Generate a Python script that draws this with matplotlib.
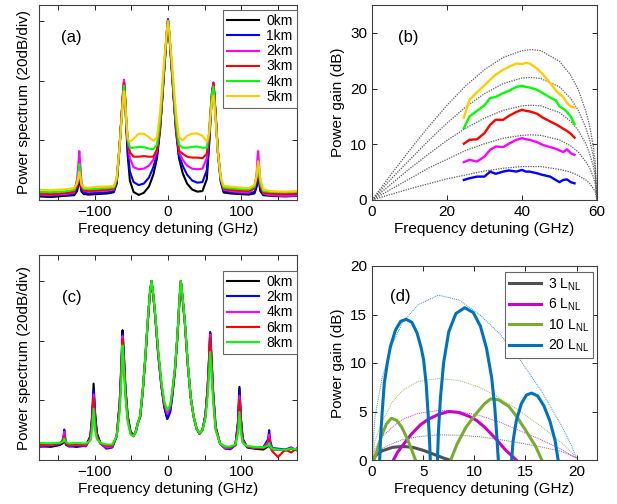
import numpy as np
import matplotlib
matplotlib.use('Agg')
import matplotlib.pyplot as plt
from matplotlib.ticker import NullFormatter

plt.rcParams['font.family'] = ['Liberation Sans', 'DejaVu Sans']
plt.rcParams['font.size'] = 11
plt.rcParams['mathtext.fontset'] = 'custom'
plt.rcParams['mathtext.rm'] = 'Liberation Sans'

#### panel (a): spectra after 0..5 km ####
fa = [-176, -160, -140, -128, -124, -122, -121, -120, -118, -115, -108, -95, -82, -74, -70, -66,
      -63, -61, -60, -59, -57, -55, -52, -47, -40, -33, -26, -20, -15, -11, -8, -5, -3, -1.5, 0,
      1.5, 3, 5, 8, 11, 15, 20, 26, 33, 40, 47, 53, 56, 58, 60, 62, 63, 65, 68, 72, 76, 85, 97,
      110, 118, 121, 122, 123, 124, 126, 130, 140, 160, 176]
a_labels = ['0km', '1km', '2km', '3km', '4km', '5km']
a_0km = [-58.8, -59.0, -58.6, -58.4, -57, -54, -52.5, -54.5, -57.2, -58.0, -58.2, -58.0, -57.8, -57.4,
         -54.5, -42, -31, -23.5, -21, -24, -35, -45, -53.5, -57.3, -58.3, -57.6, -55.5, -51.5, -46,
         -37, -27, -16, -9, -4, 0,
         -4, -9, -16, -27, -37, -46, -51, -54.5, -56.5, -57.2, -57, -53, -42, -33, -25, -21, -24, -32,
         -44, -54, -57.5, -57.8, -58, -58.2, -57.8, -55.5, -53, -51.5, -53.5, -57, -58.4, -58.6, -58.8,
         -58.6]
a_1km = [-58.5, -58.6, -58.3, -58.0, -56.5, -53.5, -51.5, -53.5, -56.8, -57.6, -57.8, -57.6, -57.4, -57.0,
         -54, -42, -30.5, -23, -20.5, -23.5, -34, -43, -50.5, -54, -55, -54.5, -52.5, -49, -44.5,
         -36.5, -26.5, -15.5, -8.5, -3.5, 0.6,
         -3.5, -8.5, -15.5, -26.5, -36.5, -45, -48.5, -51.5, -53.5, -54.2, -54, -50, -41, -32.5, -24.5,
         -20.8, -24, -32, -44, -53.5, -57, -57.4, -57.6, -57.8, -57.3, -55, -52.5, -51, -53, -56.5, -58,
         -58.3, -58.4, -58.2]
a_2km = [-58.2, -58.3, -58.0, -57.5, -53, -47, -43.6, -47, -54, -57, -57.2, -57.0, -56.8, -56.5,
         -53.5, -41.5, -30, -22.5, -19.7, -23, -33, -40.5, -46, -49, -49.7, -49.5, -48.5, -46.5, -43.5,
         -36, -26, -15, -8.5, -3.5, 0.2,
         -3.5, -8.5, -15, -26, -36, -44, -46.5, -48.5, -49.5, -49.7, -49.5, -46, -39, -31, -24, -20.6,
         -23.5, -31, -43, -53, -56.5, -57, -57.3, -57.5, -56, -51, -46, -43.6, -47, -54, -57.8, -58.4,
         -58.6, -58.5]
a_3km = [-57.9, -58.0, -57.7, -57.2, -55.5, -52.5, -50.5, -52.5, -55.8, -56.8, -56.9, -56.7, -56.5, -56.2,
         -53.2, -41.5, -30.5, -23, -20.8, -23.5, -33, -39.5, -44, -45.5, -45.5, -45.3, -45.5, -45.5, -43,
         -35.5, -25.5, -15, -8.5, -3.5, 0,
         -3.5, -8.5, -15, -25.5, -35.5, -43.5, -44.5, -45.5, -45.8, -45.8, -46, -44.5, -38, -30.5, -24,
         -21, -24, -31.5, -43.5, -53, -56.2, -56.6, -56.8, -57.0, -56, -53, -51, -50, -52, -55.5, -57.5,
         -57.8, -57.9, -57.8]
a_4km = [-57.3, -57.4, -57.1, -56.6, -54, -50.5, -48, -50.5, -54.5, -56.2, -56.4, -56.2, -56.0, -55.8,
         -53, -41.5, -31, -24, -21.7, -24.5, -33, -40, -42.5, -42.5, -42.2, -42.3, -42.8, -43, -41.5,
         -34, -24.5, -14.5, -8, -3.5, 0,
         -3.5, -8, -14.5, -24.5, -34, -41.5, -42.5, -42.5, -42.2, -42.1, -42.5, -42.5, -37.5, -30.5,
         -24.5, -22, -25, -32.5, -44, -53, -55.8, -56.1, -56.3, -56.5, -55.5, -51.5, -49, -48.5, -50.5,
         -54.5, -57, -57.3, -57.4, -57.3]
a_5km = [-56.6, -56.7, -56.4, -56.0, -54.5, -52, -50.6, -52, -55, -55.8, -55.9, -55.5, -55.5, -55.3,
         -52.5, -42, -32, -25.5, -23.6, -25.5, -33, -39.5, -40.5, -39.5, -37.8, -37.8, -39, -40.2, -39,
         -31, -22, -12.5, -7, -3, -0.3,
         -3, -7, -12.5, -22, -31, -39, -40, -38.5, -37.8, -37.7, -38.5, -40.5, -38, -32, -27, -25, -27,
         -33.5, -44, -52.5, -55.3, -55.5, -55.8, -56, -55, -52, -49, -47, -48.5, -53, -56.5, -57, -57.2,
         -57]

#### panel (b): measured gain vs. theory ####
fb_theory = [0, 5, 10, 15, 20, 25, 30, 35, 40, 42.4, 45, 50, 53, 55, 57, 58, 59, 59.5, 60]
b_theory = [
    [0, 4.5, 8.9, 13.1, 17.0, 20.5, 23.4, 25.6, 26.8, 27.0, 26.8, 24.9, 22.4, 19.8, 16.0, 13.4, 9.7, 6.9, 0],
    [0, 3.7, 7.2, 10.6, 13.8, 16.7, 19.1, 20.9, 21.9, 22.0, 21.8, 20.3, 18.2, 16.1, 13.0, 10.9, 7.9, 5.6, 0],
    [0, 2.8, 5.6, 8.2, 10.7, 12.9, 14.7, 16.1, 16.9, 17.0, 16.9, 15.7, 14.1, 12.5, 10.1, 8.4, 6.1, 4.4, 0],
    [0, 1.9, 3.8, 5.7, 7.3, 8.9, 10.1, 11.1, 11.6, 11.7, 11.6, 10.8, 9.7, 8.6, 6.9, 5.8, 4.2, 3.0, 0],
    [0, 1.0, 2.0, 2.9, 3.8, 4.5, 5.2, 5.7, 6.0, 6.0, 6.0, 5.5, 5.0, 4.4, 3.6, 3.0, 2.1, 1.5, 0],
]
fb = [24.5, 26, 28, 30, 31.5, 33, 35, 36.5, 38.5, 40, 41, 42, 44, 45.5, 47.5, 49, 50, 51, 52, 53, 54]
b_1km = [3.6, 3.9, 4.2, 4.2, 5.1, 4.7, 5.1, 5.3, 5.1, 5.4, 5.1, 5.1, 4.8, 4.5, 4.2, 3.6, 3.2, 3.6, 3.7, 3.2, 3.0]
b_2km = [6.8, 7.2, 6.9, 7.8, 9.0, 9.6, 9.5, 10.1, 10.8, 11.1, 10.9, 10.8, 10.4, 9.9, 9.5, 9.2, 8.9, 8.6, 9.1, 8.4, 8.1]
b_3km = [10.1, 10.8, 10.9, 12.0, 13.5, 14.4, 14.4, 15.1, 15.8, 16.2, 16.0, 15.9, 15.5, 14.8, 14.1, 13.6, 13.2, 12.8, 12.4, 11.9, 11.2]
b_4km = [12.9, 15.0, 16.0, 17.0, 18.3, 18.5, 19.2, 19.6, 20.3, 20.5, 20.3, 20.2, 19.8, 19.2, 18.4, 17.9, 16.8, 16.4, 15.8, 15.0, 13.6]
b_5km = [14.8, 18.0, 19.3, 20.6, 21.6, 22.5, 23.4, 23.9, 24.5, 24.4, 24.6, 24.5, 23.6, 22.6, 21.0, 19.7, 19.0, 18.5, 17.4, 16.8, 16.6]

#### panel (c): spectra with two pumps, 0..8 km ####
fc = [-176, -160, -148, -144, -142.5, -141.5, -140.5, -139, -135, -125, -112, -106, -103.5, -101.5,
      -99.5, -97, -92, -84, -76, -70, -66, -63.5, -62, -60.5, -58, -55, -51, -47, -44, -41, -38,
      -34.5, -31, -28, -25, -22.5, -20, -17, -13.5, -9, -5, -1, 3, 6, 9.5, 13, 15.5, 17.5, 20, 23,
      27, 31, 35, 39, 43, 47, 51, 54, 56, 57.5, 59, 61.5, 65, 71, 78, 85, 92, 95.5, 97.5, 99.5, 102,
      108, 118, 130, 136.5, 138, 139.5, 142, 150, 160, 168, 176]
c_labels = ['0km', '2km', '4km', '6km', '8km']
c_0km = [-55.3, -55.6, -55.0, -54.5, -54.0, -53.4, -54.0, -55.0, -55.3, -55.6, -55.2, -52, -45, -34.4,
         -44, -51, -54.5, -55.6, -55.6, -52, -41, -27, -16.5, -23, -36, -45, -50.5, -51.7, -50.5,
         -47.5, -45.5, -37, -26, -15, -5, 0, -5, -13, -24, -35, -42, -46.1, -43.5, -38, -30, -18, -7, 0,
         -6, -14, -28, -39, -45.5, -49.5, -51.2, -50, -45, -36, -26, -17.5, -24, -37, -49, -54.5, -56.2,
         -56.2, -55, -47, -35.5, -46, -53, -55.8, -56.2, -56.5, -55.5, -54.5, -55.8, -56.3, -56.5, -56.8,
         -56.3, -56.5]
c_2km = [-55.6, -55.2, -54.8, -53.5, -52, -49.8, -52, -54.5, -55.5, -55.2, -55.4, -52.5, -46, -36.6,
         -45, -51.5, -54.5, -56.2, -55.8, -52, -41.5, -28, -17.7, -24, -36.5, -45.5, -51, -52, -50.5,
         -47.5, -45.5, -37, -26, -15, -5, 0, -5, -13, -24.5, -35.5, -42.5, -46.3, -44, -38.5, -30, -18,
         -7, 0, -6, -14, -28, -39, -45.5, -49.5, -51.2, -50, -45, -36, -26, -17.1, -24, -37, -49, -54.5,
         -56, -56.4, -55, -47.5, -36.1, -46.5, -53, -55.6, -56, -55.8, -53, -50, -53.5, -56, -56.2,
         -56.5, -55.8, -56.8]
c_4km = [-55.2, -55.0, -54.6, -53.5, -52.5, -50.5, -52.5, -54.5, -55.2, -55.0, -55.2, -52.8, -47, -38,
         -46.5, -52, -54.5, -55.8, -55.5, -52, -42, -29, -18.5, -25, -37, -46, -51, -52, -50.5, -47.5,
         -45.5, -37, -26, -15, -5, 0, -5, -13, -24, -35, -41.5, -44.5, -42.5, -37.5, -29.5, -18, -7, 0,
         -6, -14, -28, -39, -45.5, -49.5, -51.2, -50, -45.5, -36.5, -27, -18, -25, -37.5, -49, -54.5, -56,
         -56, -55, -48.5, -38.5, -47.5, -53.5, -55.5, -56, -56, -54, -51.5, -54.5, -56.5, -56.5, -56.8,
         -56, -56.6]
c_6km = [-55.0, -54.8, -54.6, -54, -53.5, -52, -53.5, -54.5, -55, -54.7, -55, -53.2, -48.5, -39.4,
         -48, -52.5, -54.5, -55.2, -55.2, -52, -42.5, -30, -19.5, -26, -38, -46.5, -51.2, -52, -50.5,
         -47.5, -45.5, -37, -26, -15, -5, 0, -5, -13, -23.5, -34.5, -41, -43.4, -42, -37, -29.5, -18, -7,
         0, -6, -14, -28, -39, -45.5, -49.5, -51, -50, -45.5, -37, -28, -19, -26, -38.5, -49.5, -54.5, -55.5,
         -55.8, -55, -49.5, -40, -49, -54, -55.5, -55.8, -56, -55, -53, -55.5, -57, -59, -56.5, -57.5,
         -56]
c_8km = [-54.3, -54.4, -54.2, -54, -53.6, -52.8, -53.6, -54, -54.5, -54.3, -54.5, -53.5, -50, -42.8,
         -50, -53, -54.3, -54.8, -54.8, -52, -44, -32, -21.6, -28, -39, -47, -51.5, -52, -50.5,
         -47.5, -45, -36.5, -25.5, -14.5, -4.5, 0, -4.5, -12.5, -23, -34, -40.5, -43.4, -41.5, -36.5,
         -29, -17.5, -6.5, 0, -5.5, -13.5, -27.5, -39, -45.5, -49.5, -51, -50, -46, -39, -31, -23.8,
         -29, -40, -50, -54.5, -55.5, -55.5, -54.8, -51, -43.9, -51, -54.3, -55.3, -55.6, -55.8, -55.2,
         -54.3, -55.5, -56.2, -56.5, -56.6, -56.2, -56.4]

#### panel (d): simulated gain lobes and envelopes ####
fd_env = [0, 0.3, 1, 2, 3, 4.5, 6.5, 8.5, 10.5, 12.5, 14.5, 16.5, 18.5, 19.5, 20]
d_env_3 = [0, 0.6, 1.2, 1.7, 2.1, 2.4, 2.6, 2.55, 2.4, 2.1, 1.75, 1.35, 0.9, 0.45, 0.2]
d_env_6 = [0, 1.2, 2.4, 3.4, 4.2, 4.8, 5.1, 5.0, 4.6, 3.9, 3.0, 2.1, 1.1, 0.5, 0.2]
d_env_10 = [0, 2.0, 4.0, 6.0, 7.2, 8.1, 8.4, 8.2, 7.5, 6.4, 5.0, 3.5, 1.8, 0.8, 0.2]
d_env_20 = [0, 4.5, 8.5, 12.0, 14.2, 16.0, 17.0, 16.5, 15.0, 13.0, 10.3, 7.2, 3.6, 1.5, 0.2]

d3_f = [0, 0.5, 1, 2, 3, 4, 5, 6, 7, 7.6]
d3_g = [0, 0.6, 0.95, 1.3, 1.4, 1.3, 1.0, 0.6, 0.2, 0]
d6_f = [2.1, 2.5, 3, 3.8, 4.7, 5.5, 6.5, 7.5, 8.5, 9.5, 10.2, 11, 12.1, 13, 13.5, 14.1]
d6_g = [0, 0.8, 1.5, 2.6, 3.6, 4.2, 4.7, 5.0, 4.9, 4.5, 4.1, 3.4, 2.2, 1.1, 0.6, 0]
d10_f1 = [0.2, 0.5, 0.9, 1.4, 1.9, 2.4, 2.9, 3.4, 3.9, 4.25]
d10_g1 = [0, 1.0, 2.4, 3.7, 4.3, 4.1, 3.4, 2.3, 1.0, 0]
d10_f2 = [7.7, 8.3, 9.2, 10.2, 11, 11.6, 12.4, 13.4, 14.2, 15, 16, 16.6]
d10_g2 = [0, 1.6, 3.4, 4.8, 5.8, 6.3, 6.2, 5.5, 4.4, 3.1, 1.4, 0]
d20_f1 = [0.75, 0.85, 1.0, 1.2, 1.5, 1.8, 2.3, 2.8, 3.35, 3.9, 4.4, 4.8, 5.05, 5.3, 5.5, 5.65, 5.7]
d20_g1 = [0, 2.5, 5.0, 7.9, 10.0, 11.7, 13.4, 14.3, 14.5, 14.2, 13.1, 11.6, 10.3, 7.8, 4.5, 1.5, 0]
d20_f2 = [6.4, 6.5, 6.7, 7.0, 7.5, 8.2, 9.07, 9.9, 10.6, 11.2, 11.7, 12.0, 12.2, 12.35]
d20_g2 = [0, 3, 6.5, 10, 13.2, 15.1, 15.7, 15.2, 13.8, 11.5, 8.5, 5.5, 2.5, 0]
d20_f3 = [13.65, 13.8, 14.1, 14.6, 15.1, 15.6, 16.2, 16.8, 17.4, 17.9, 18.2]
d20_g3 = [0, 2.0, 4.0, 5.8, 6.7, 6.9, 6.6, 5.6, 4.0, 2.0, 0]

spec_colors = ['#000000', '#0000ff', '#ff00ff', '#ff0000', '#00ff00', '#ffcc00']
spec_colors_c = ['#000000', '#0000ff', '#ff00ff', '#ff0000', '#00ff00']
d_colors = ['#505050', '#cc00cc', '#77ac30', '#0072bd']
d_labels = ['3 L$_{\\rm NL}$', '6 L$_{\\rm NL}$', '10 L$_{\\rm NL}$', '20 L$_{\\rm NL}$']

W, H = 617, 504
fig = plt.figure(figsize=(W / 100, H / 100), dpi=100)


def box(l, t, r, b):
    return [l / W, 1 - b / H, (r - l) / W, (b - t) / H]


def style(ax):
    ax.tick_params(which='both', direction='in', top=True, right=True, length=3.5, width=0.7,
                   colors='0.15', labelcolor='black')
    for s in ax.spines.values():
        s.set_linewidth(0.8)
        s.set_color('0.25')


def legend(ax, anchor, **kw):
    leg = ax.legend(loc='upper right', bbox_to_anchor=anchor, borderaxespad=0, fancybox=False,
                    framealpha=1, edgecolor='0.4', fontsize=10, handlelength=2.3,
                    handletextpad=0.5, borderpad=0.3, **kw)
    leg.get_frame().set_linewidth(0.8)
    return leg


# (a)
ax = fig.add_axes(box(39, 5, 297, 200))
for yy, lab, col in zip([a_0km, a_1km, a_2km, a_3km, a_4km, a_5km], a_labels, spec_colors):
    ax.plot(fa, yy, color=col, lw=1.5, label=lab)
ax.set_xlim(-176, 176)
ax.set_ylim(-60, 5.3)
ax.set_xticks([-100, 0, 100])
ax.set_xticks([-150, -50, 50, 150], minor=True)
ax.set_yticks([-40, -20, 0])
ax.yaxis.set_major_formatter(NullFormatter())
ax.set_xlabel('Frequency detuning (GHz)', labelpad=2)
ax.set_ylabel('Power spectrum (20dB/div)')
ax.yaxis.set_label_coords(-0.03, 0.5)
ax.text(0.085, 0.835, '(a)', transform=ax.transAxes, fontsize=12, va='center')
style(ax)
legend(ax, (1.0, 1 - 5 / 195), labelspacing=0.08)

# (b)
ax = fig.add_axes(box(372, 5, 597, 200))
for yy in b_theory:
    ax.plot(fb_theory, yy, color='0.35', lw=0.9, ls=(0, (1, 1)))
for yy, col in zip([b_1km, b_2km, b_3km, b_4km, b_5km], spec_colors[1:]):
    ax.plot(fb, yy, color=col, lw=1.7)
ax.set_xlim(0, 60)
ax.set_ylim(0, 35)
ax.set_xticks([0, 20, 40, 60])
ax.set_yticks([0, 10, 20, 30])
ax.set_xlabel('Frequency detuning (GHz)', labelpad=2)
ax.set_ylabel('Power gain (dB)')
ax.text(0.116, 0.835, '(b)', transform=ax.transAxes, fontsize=12, va='center')
style(ax)

# (c)
ax = fig.add_axes(box(39, 255, 297, 460))
for yy, lab, col in zip([c_0km, c_2km, c_4km, c_6km, c_8km], c_labels, spec_colors_c):
    ax.plot(fc, yy, color=col, lw=1.5, label=lab)
ax.set_xlim(-176, 176)
ax.set_ylim(-60, 8.7)
ax.set_xticks([-100, 0, 100])
ax.set_xticks([-150, -50, 50, 150], minor=True)
ax.set_yticks([-40, -20, 0])
ax.yaxis.set_major_formatter(NullFormatter())
ax.set_xlabel('Frequency detuning (GHz)', labelpad=2)
ax.set_ylabel('Power spectrum (20dB/div)')
ax.yaxis.set_label_coords(-0.03, 0.5)
ax.text(0.089, 0.795, '(c)', transform=ax.transAxes, fontsize=12, va='center')
style(ax)
legend(ax, (1.0, 1 - 16 / 205), labelspacing=0.08)

# (d)
ax = fig.add_axes(box(372, 266, 597, 460))
for yy, col in zip([d_env_3, d_env_6, d_env_10, d_env_20], d_colors):
    ax.plot(fd_env, yy, color=col, lw=0.7, ls=(0, (1, 1)), alpha=0.8)
ax.plot(d3_f, d3_g, color=d_colors[0], lw=2.2, label=d_labels[0])
ax.plot(d6_f, d6_g, color=d_colors[1], lw=2.2, label=d_labels[1])
ax.plot(d10_f1, d10_g1, color=d_colors[2], lw=2.2, label=d_labels[2])
ax.plot(d10_f2, d10_g2, color=d_colors[2], lw=2.2)
ax.plot(d20_f1, d20_g1, color=d_colors[3], lw=2.2, label=d_labels[3])
ax.plot(d20_f2, d20_g2, color=d_colors[3], lw=2.2)
ax.plot(d20_f3, d20_g3, color=d_colors[3], lw=2.2)
ax.set_xlim(0, 22)
ax.set_ylim(0, 20)
ax.set_xticks([0, 5, 10, 15, 20])
ax.set_yticks([0, 5, 10, 15, 20])
ax.set_xlabel('Frequency detuning (GHz)', labelpad=2)
ax.set_ylabel('Power gain (dB)')
ax.text(0.08, 0.845, '(d)', transform=ax.transAxes, fontsize=12, va='center')
style(ax)
legend(ax, (1 - 4 / 225, 1 - 6 / 194), labelspacing=0.3)

fig.savefig('out.png', dpi=100)
